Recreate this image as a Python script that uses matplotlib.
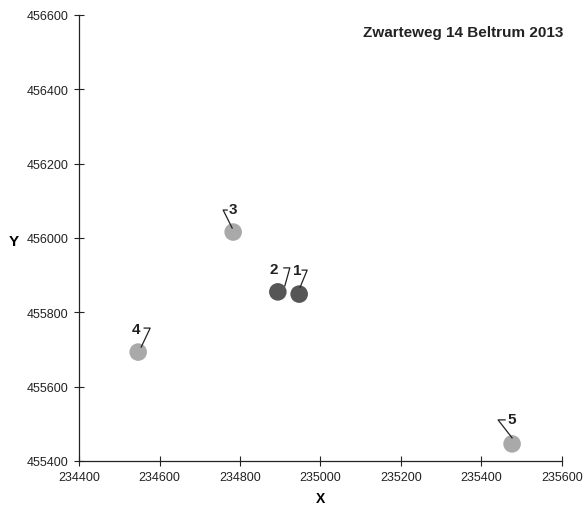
import matplotlib
matplotlib.use('Agg')
import matplotlib.pyplot as plt
import matplotlib.transforms as mtransforms

plt.rcParams['font.family'] = ['Liberation Sans', 'DejaVu Sans']

# meetpunten (RD coordinaten)
labels = ['1', '2', '3', '4', '5']
xs = [234947, 234894, 234783, 234547, 235476]
ys = [455849, 455855, 456016, 455693, 455446]
kleuren = ['#565656', '#565656', '#a9a9a9', '#a9a9a9', '#a9a9a9']

xticks = [234400, 234600, 234800, 235000, 235200, 235400, 235600]
yticks = [455400, 455600, 455800, 456000, 456200, 456400, 456600]

# offsets in pixels t.o.v. het punt: tekst, begin horizontaal, hoek, eind diagonaal
lab_off = {
    '1': ((-2, 24), (3, 24), (8, 24), (1, 7)),
    '2': ((-4, 23), (6, 24), (12, 24), (7, 6)),
    '3': ((0, 23), (-6, 22), (-10, 22), (-1, 4)),
    '4': ((-2, 23), (6, 24), (12, 24), (3, 5)),
    '5': ((0, 25), (-7, 24), (-14, 24), (0, 6)),
}

fig = plt.figure(figsize=(5.84, 5.06), dpi=100)
ax = fig.add_axes([0.1353, 0.0870, 0.8270, 0.8814])

ax.scatter(xs, ys, s=160, c=kleuren, edgecolors='none', zorder=3)

for lab, x, y in zip(labels, xs, ys):
    (tx, ty), (hx, hy), (cx, cy), (dx, dy) = lab_off[lab]
    trans = fig.dpi_scale_trans + mtransforms.ScaledTranslation(x, y, ax.transData)
    ax.text(tx / 100, ty / 100, lab, transform=trans, ha='center', va='center',
            fontsize=11, fontweight='bold', color='#222222')
    # leader: kort horizontaal stukje en schuine lijn naar het punt
    ax.plot([hx / 100, cx / 100, dx / 100], [hy / 100, cy / 100, dy / 100],
            transform=trans, color='#222222', lw=0.9, clip_on=False, zorder=4)

ax.set_xlim(234400, 235600)
ax.set_ylim(455400, 456600)
ax.set_xticks(xticks)
ax.set_yticks(yticks)
ax.tick_params(direction='inout', length=7, width=0.8, labelsize=9, colors='#222222', pad=4)

for s in ['top', 'right']:
    ax.spines[s].set_visible(False)
for s in ['left', 'bottom']:
    ax.spines[s].set_linewidth(0.9)
    ax.spines[s].set_color('#222222')

ax.set_xlabel('X', fontsize=10, fontweight='bold')
ax.xaxis.set_label_coords(0.499, -0.067)
ax.set_ylabel('Y', fontsize=11, fontweight='bold', rotation=0, va='center', ha='center')
ax.yaxis.set_label_coords(-0.135, 0.493)

ax.text(1.002, 0.962, 'Zwarteweg 14 Beltrum 2013', transform=ax.transAxes,
        ha='right', va='center', fontsize=11, fontweight='bold', color='#222222')

fig.savefig('out.png', dpi=100)
